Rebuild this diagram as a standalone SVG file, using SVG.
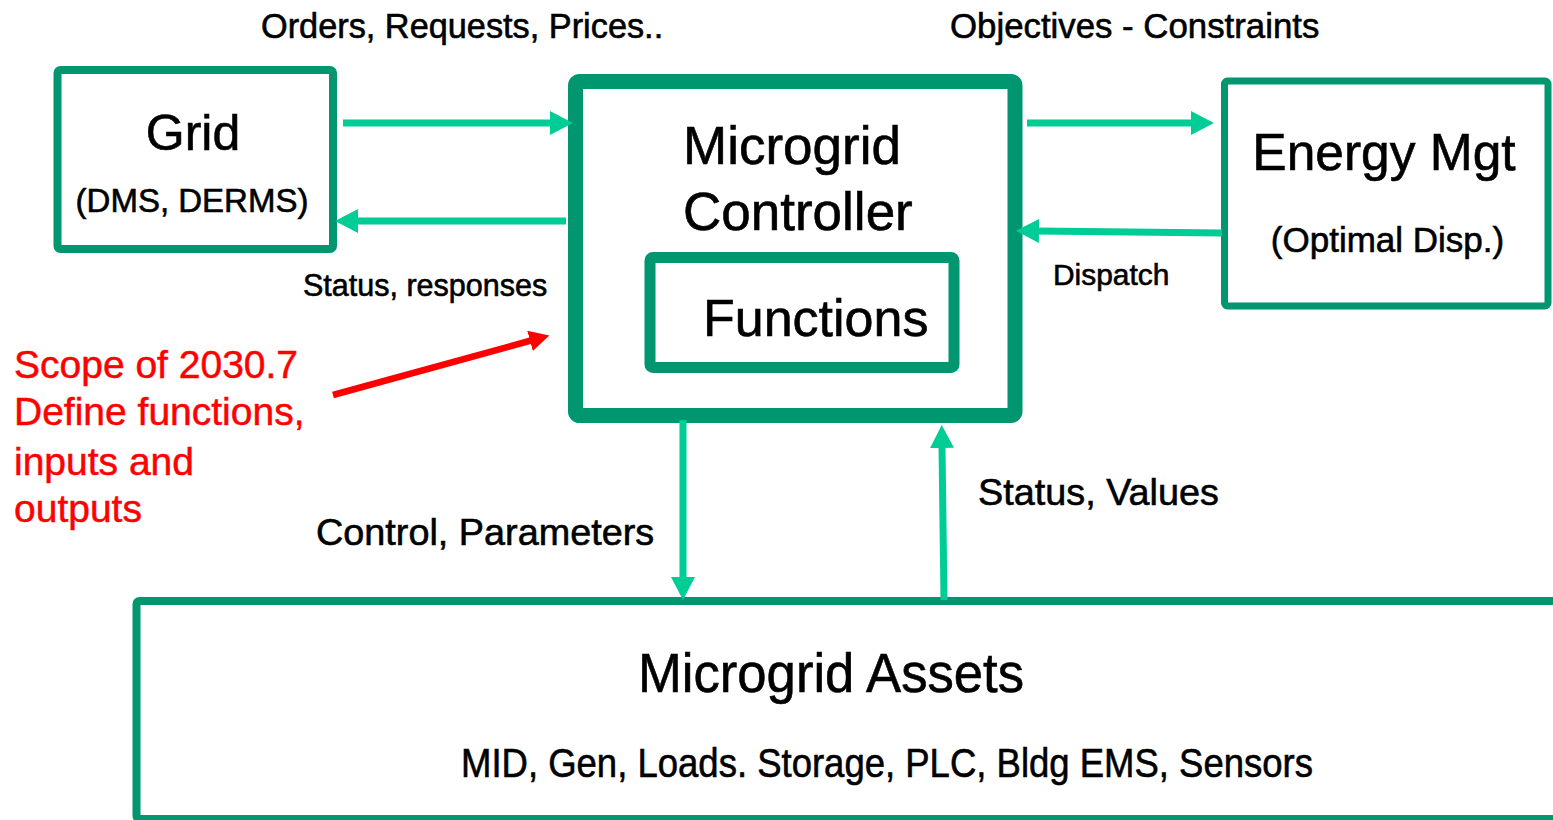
<svg xmlns="http://www.w3.org/2000/svg" width="1553" height="820" viewBox="0 0 1553 820">
<style>
.box{fill:#fff;stroke:#009670;stroke-linejoin:round}
.t{font-family:"Liberation Sans",Arial,sans-serif;fill:#000;stroke:#000;stroke-width:0.6}
.r{font-family:"Liberation Sans",Arial,sans-serif;fill:#ff0000;stroke:#ff0000;stroke-width:0.5;font-size:39px}
.c{stroke:#00cc96;stroke-width:7;fill:none}
.cr{stroke:#ff0000;stroke-width:6.5;fill:none}
</style>
<defs>
<marker id="ah" markerUnits="userSpaceOnUse" markerWidth="24" markerHeight="24" refX="1" refY="12" orient="auto" viewBox="0 0 24 24"><path d="M0,0 L23,12 L0,24 z" fill="#00cc96"/></marker>
<marker id="ahr" markerUnits="userSpaceOnUse" markerWidth="21" markerHeight="21" refX="1" refY="10.5" orient="auto" viewBox="0 0 21 21"><path d="M0,0 L20,10.5 L0,21 z" fill="#ff0000"/></marker>
</defs>
<rect width="1553" height="820" fill="#fff"/>
<g id="assets">
<rect class="box" x="136.5" y="601" width="1500" height="218" rx="3" stroke-width="8"/>
<text class="t" x="831" y="692" font-size="55" text-anchor="middle" textLength="386" lengthAdjust="spacingAndGlyphs">Microgrid Assets</text>
<text class="t" x="887" y="777" font-size="40" text-anchor="middle" textLength="852" lengthAdjust="spacingAndGlyphs">MID, Gen, Loads. Storage, PLC, Bldg EMS, Sensors</text>
</g>
<g id="grid">
<rect class="box" x="57.5" y="70" width="275.5" height="179" rx="3" stroke-width="8"/>
<text class="t" x="193" y="150" font-size="50" text-anchor="middle">Grid</text>
<text class="t" x="192" y="212" font-size="33" text-anchor="middle">(DMS, DERMS)</text>
</g>
<g id="controller">
<rect class="box" x="575.5" y="81.5" width="439.5" height="334" rx="4" stroke-width="15"/>
<text class="t" x="683" y="164" font-size="53">Microgrid</text>
<text class="t" x="683" y="230" font-size="53">Controller</text>
</g>
<g id="functions">
<rect class="box" x="650" y="257.5" width="304" height="110" rx="3" stroke-width="11"/>
<text class="t" x="703" y="336" font-size="52">Functions</text>
</g>
<g id="energy">
<rect class="box" x="1224.5" y="81" width="323.5" height="225" rx="3" stroke-width="7"/>
<text class="t" x="1384" y="170" font-size="51.5" text-anchor="middle">Energy Mgt</text>
<text class="t" x="1387.5" y="252" font-size="35" text-anchor="middle">(Optimal Disp.)</text>
</g>
<g id="connectors">
<line class="c" x1="343" y1="123" x2="551" y2="123" marker-end="url(#ah)"/>
<line class="c" x1="566" y1="221" x2="357" y2="221" marker-end="url(#ah)"/>
<line class="c" x1="1027" y1="123" x2="1192" y2="123" marker-end="url(#ah)"/>
<line class="c" x1="1222" y1="233" x2="1038" y2="231" marker-end="url(#ah)"/>
<line class="c" x1="683" y1="420" x2="683" y2="578" marker-end="url(#ah)"/>
<line class="c" x1="944" y1="600" x2="942" y2="447" marker-end="url(#ah)"/>
<line class="cr" x1="333" y1="395" x2="531" y2="340.5" marker-end="url(#ahr)"/>
</g>
<g id="labels">
<text class="t" x="261" y="38" font-size="34.3">Orders, Requests, Prices..</text>
<text class="t" x="950" y="38" font-size="34.8">Objectives - Constraints</text>
<text class="t" x="303" y="296" font-size="30.5">Status, responses</text>
<text class="t" x="1053" y="285" font-size="29.9">Dispatch</text>
<text class="t" x="978" y="505" font-size="37.8">Status, Values</text>
<text class="t" x="316" y="545" font-size="37.8">Control, Parameters</text>
<text class="r" x="14" y="378">Scope of 2030.7</text>
<text class="r" x="14" y="425">Define functions,</text>
<text class="r" x="14" y="475">inputs and</text>
<text class="r" x="14" y="522">outputs</text>
</g>
</svg>
